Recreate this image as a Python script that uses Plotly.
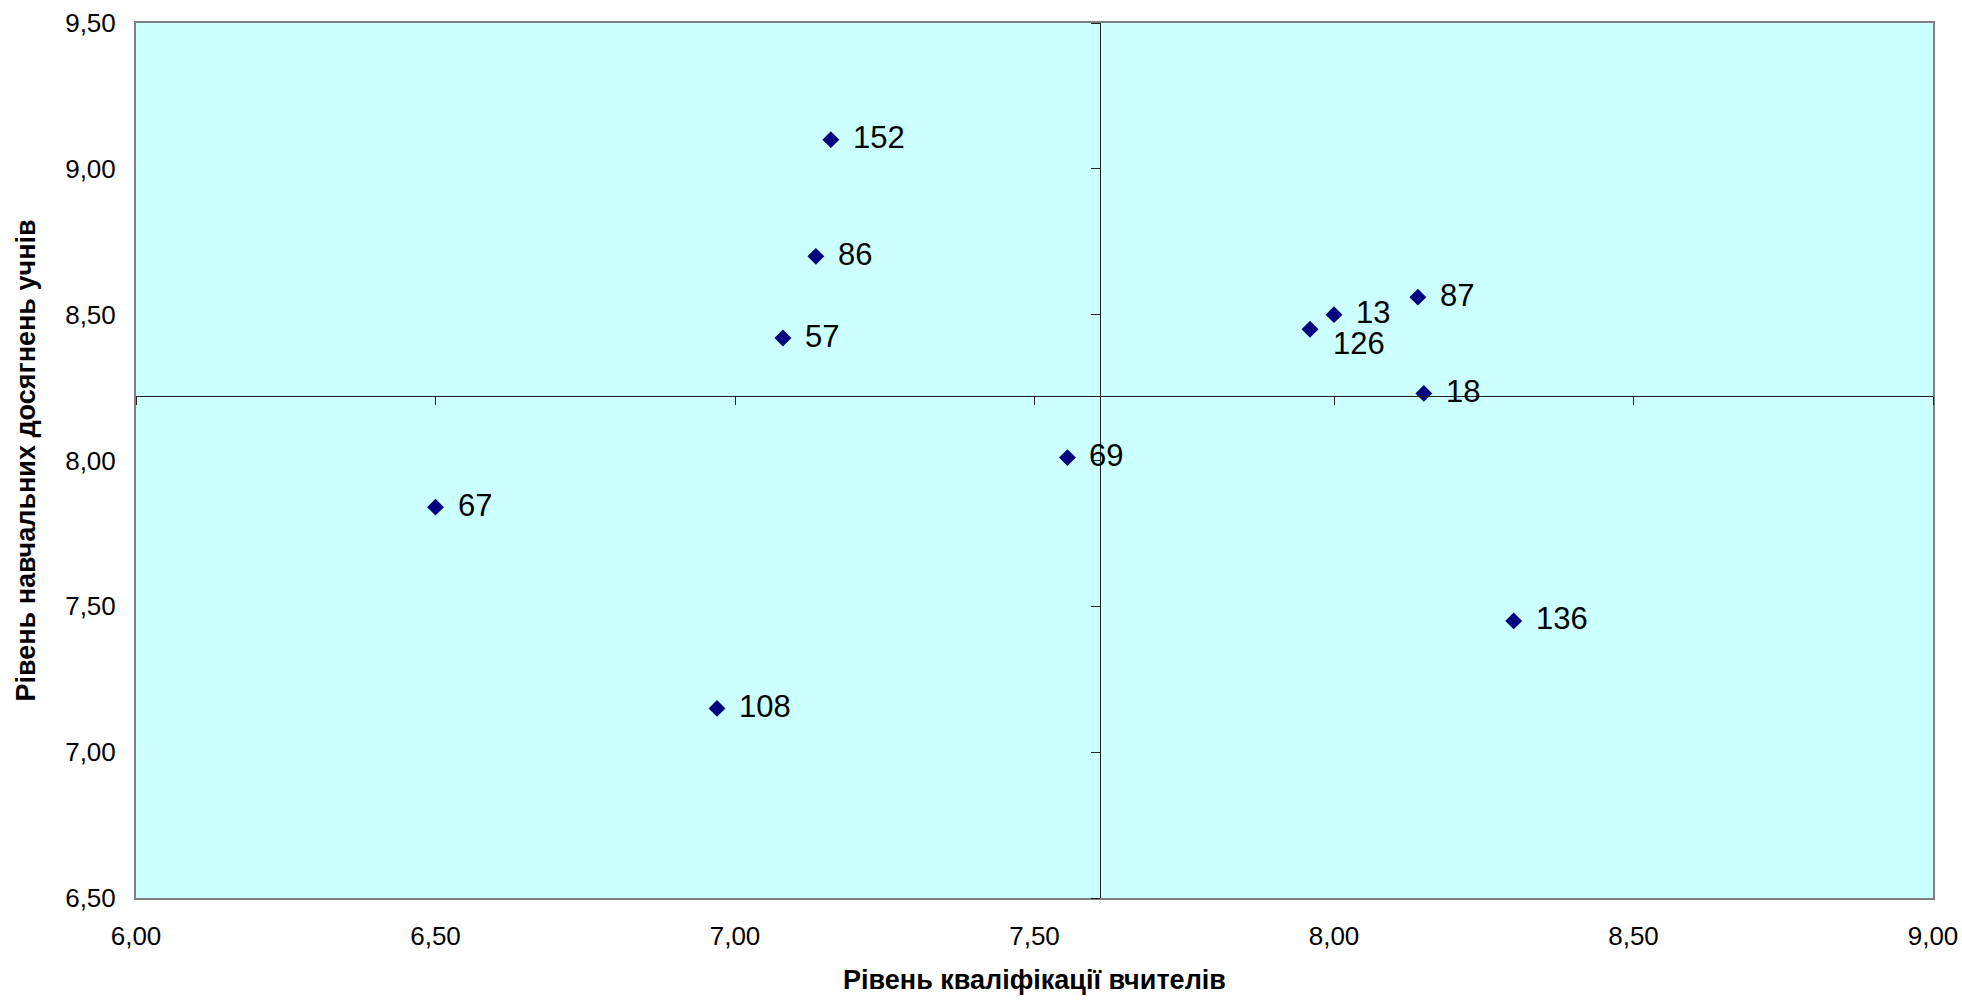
import plotly.graph_objects as go

# Data
school_ids = ["13", "126", "87", "18", "152", "86", "57", "67", "108", "136", "69"]
teacher_qual = [8.00, 7.96, 8.14, 8.15, 7.16, 7.135, 7.08, 6.50, 6.97, 8.30, 7.555]
student_achv = [8.50, 8.45, 8.56, 8.23, 9.10, 8.70, 8.42, 7.84, 7.15, 7.45, 8.01]

X_RANGE = [6.0, 9.0]
Y_RANGE = [6.5, 9.5]
X_CROSS = 7.61
Y_CROSS = 8.22
x_ticks = [6.0, 6.5, 7.0, 7.5, 8.0, 8.5, 9.0]
y_ticks = [6.5, 7.0, 7.5, 8.0, 8.5, 9.0, 9.5]
x_ticktext = ["6,00", "6,50", "7,00", "7,50", "8,00", "8,50", "9,00"]
y_ticktext = ["6,50", "7,00", "7,50", "8,00", "8,50", "9,00", "9,50"]

x_title = "Рівень кваліфікації вчителів"
y_title = "Рівень навчальних досягнень учнів"

# label placement (style): default to the right of the marker; 126 sits lower
DEFAULT_SHIFT = (20, 2)
LABEL_SHIFT = {"126": (21, -14)}

FONT = "Arial, 'Liberation Sans', sans-serif"

fig = go.Figure()

fig.add_trace(go.Scatter(
    x=teacher_qual, y=student_achv, mode="markers",
    marker=dict(symbol="diamond", size=13, color="#000080"),
    showlegend=False, xaxis="x", yaxis="y", hoverinfo="text", text=school_ids,
))
# carrier trace for the crossing axes
fig.add_trace(go.Scatter(x=[], y=[], xaxis="x2", yaxis="y2", showlegend=False))

for sid, xv, yv in zip(school_ids, teacher_qual, student_achv):
    dx, dy = LABEL_SHIFT.get(sid, DEFAULT_SHIFT)
    fig.add_annotation(
        x=xv, y=yv, xref="x", yref="y", text=sid, showarrow=False,
        xanchor="left", yanchor="middle", xshift=dx, yshift=dy,
        font=dict(family=FONT, size=31, color="#000000"),
    )

# y-axis title
fig.add_annotation(
    x=0, y=0.5, xref="paper", yref="paper", text="<b>" + y_title + "</b>",
    textangle=-90, showarrow=False, xanchor="center", yanchor="middle", xshift=-111,
    font=dict(family=FONT, size=27, color="#000000"),
)

fig.update_layout(
    width=1962, height=1000,
    margin=dict(l=136, r=29, t=23, b=102),
    paper_bgcolor="#ffffff",
    plot_bgcolor="#CCFFFF",
    font=dict(family=FONT, color="#000000"),
    xaxis=dict(
        range=X_RANGE, tickvals=x_ticks, ticktext=x_ticktext, automargin=False,
        tickfont=dict(size=26), ticks="", ticklabelstandoff=14, ticklabeloverflow="allow",
        showgrid=False, zeroline=False,
        showline=True, linecolor="#808080", linewidth=2, mirror=True,
        title=dict(text="<b>" + x_title + "</b>", font=dict(size=27), standoff=20),
    ),
    yaxis=dict(
        range=Y_RANGE, tickvals=y_ticks, ticktext=y_ticktext, automargin=False,
        tickfont=dict(size=26), ticks="", ticklabelstandoff=13, ticklabeloverflow="allow",
        showgrid=False, zeroline=False,
        showline=True, linecolor="#808080", linewidth=2, mirror=True,
    ),
    xaxis2=dict(
        range=X_RANGE, tickvals=x_ticks, overlaying="x", anchor="free", automargin=False,
        position=(Y_CROSS - Y_RANGE[0]) / (Y_RANGE[1] - Y_RANGE[0]),
        showticklabels=False, ticks="outside", ticklen=8, tickwidth=1, tickcolor="#222222",
        showline=True, linecolor="#222222", linewidth=1,
        showgrid=False, zeroline=False,
    ),
    yaxis2=dict(
        range=Y_RANGE, tickvals=y_ticks, overlaying="y", anchor="free", automargin=False,
        position=(X_CROSS - X_RANGE[0]) / (X_RANGE[1] - X_RANGE[0]),
        showticklabels=False, ticks="outside", ticklen=9, tickwidth=1, tickcolor="#222222",
        showline=True, linecolor="#222222", linewidth=1,
        showgrid=False, zeroline=False,
    ),
)

fig.write_html(
    "out.html",
    config={"displayModeBar": False},
    post_script="document.body.style.margin='0';document.body.style.overflow='hidden';",
)
